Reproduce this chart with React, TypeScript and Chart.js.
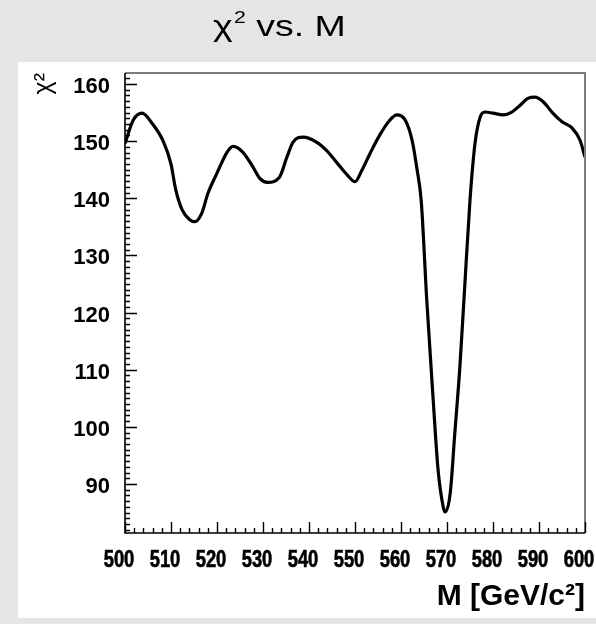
import React, { useEffect, useRef } from "react";
import { Chart, registerables } from "chart.js";

Chart.register(...registerables);

// ---- data ----
const massValues = [
  500, 501.8, 503.7, 506, 508.3, 510, 511, 512.4, 514, 515.2, 516.7, 518, 520,
  522.2, 523.5, 525.6, 527.8, 529.3, 531, 533.5, 535.2, 536.5, 538.7, 541.7,
  543.9, 546.1, 548.3, 550, 551.5, 553.3, 555.4, 557.6, 559.1, 560.9, 562.4,
  563.5, 564.4, 565.6, 567, 568, 568.9, 569.6, 570.7, 571.7, 572.8, 573.9, 575,
  576.1, 577.2, 578.3, 580, 582.2, 584.1, 585.9, 587.6, 589.1, 590.9, 593, 595,
  597.2, 598.9, 600,
];
const chi2Values = [
  149.6, 153.7, 154.9, 153.0, 150.0, 146.0, 141.6, 138, 136.3, 135.9, 137.4,
  140.8, 144.4, 148.1, 149.1, 148.1, 145.5, 143.5, 142.8, 143.6, 147.2, 149.8,
  150.7, 149.8, 148.3, 146.2, 144.1, 142.9, 144.9, 147.9, 151.1, 153.7, 154.6,
  153.7, 150.2, 145, 139.5, 122.2, 104.7, 93, 87.2, 85.1, 88.4, 98.9, 110.5,
  125.2, 139.7, 149.7, 154.2, 155.1, 154.9, 154.6, 155.1, 156.3, 157.5, 157.7,
  156.9, 154.9, 153.4, 152.3, 150.2, 147.2,
];
const xRange = [500, 600];
const yRange = [81.42, 161.93];
const xMajorStep = 10;
const xMinorStep = 2;
const yMajorStep = 10;
const yMinorStep = 1;

const titleBase = "χ";
const titleSup = "2";
const titleRest = " vs. M";
const xAxisTitle = "M [GeV/c²]";
const yAxisTitle = "χ²";

const FONT = "'Liberation Sans', Arial, Helvetica, sans-serif";

const backgroundPlugin = {
  id: "rootBackground",
  beforeDraw(chart: any) {
    const ctx = chart.ctx;
    ctx.save();
    ctx.fillStyle = "#e5e5e5";
    ctx.fillRect(0, 0, chart.width, chart.height);
    ctx.fillStyle = "#ffffff";
    ctx.fillRect(18, 62, chart.width - 18, chart.height - 62 - 6);
    // title (ROOT style, slightly wide face)
    ctx.fillStyle = "#000";
    ctx.textBaseline = "alphabetic";
    ctx.textAlign = "left";
    ctx.translate(213, 0);
    ctx.scale(1.25, 1);
    let x = 0;
    ctx.font = `30px ${FONT}`;
    ctx.fillText(titleBase, x, 36);
    x += ctx.measureText(titleBase).width + 1;
    ctx.font = `17px ${FONT}`;
    ctx.fillText(titleSup, x, 23);
    x += ctx.measureText(titleSup).width;
    ctx.font = `30px ${FONT}`;
    ctx.fillText(titleRest, x, 36);
    ctx.restore();
  },
};

const framePlugin = {
  id: "rootFrame",
  afterDraw(chart: any) {
    const { ctx, chartArea } = chart;
    const { left, right, top, bottom } = chartArea;
    const xs = chart.scales.x;
    const ys = chart.scales.y;
    ctx.save();
    // top & right frame
    ctx.strokeStyle = "#7a7a7a";
    ctx.lineWidth = 2;
    ctx.beginPath();
    ctx.moveTo(left, top);
    ctx.lineTo(right, top);
    ctx.lineTo(right, bottom);
    ctx.stroke();
    // axes
    ctx.strokeStyle = "#000";
    ctx.lineWidth = 1.6;
    ctx.beginPath();
    ctx.moveTo(left, top);
    ctx.lineTo(left, bottom);
    ctx.lineTo(right, bottom);
    ctx.stroke();
    // x ticks (inward)
    ctx.lineWidth = 1.4;
    ctx.beginPath();
    for (let v = xRange[0]; v <= xRange[1] + 1e-9; v += xMinorStep) {
      const px = Math.round(xs.getPixelForValue(v)) + 0.5;
      const major = Math.abs(v / xMajorStep - Math.round(v / xMajorStep)) < 1e-6;
      ctx.moveTo(px, bottom);
      ctx.lineTo(px, bottom - (major ? 11 : 5));
    }
    // y ticks (inward)
    const yStart = Math.ceil(yRange[0] / yMinorStep) * yMinorStep;
    for (let v = yStart; v <= yRange[1] + 1e-9; v += yMinorStep) {
      const py = Math.round(ys.getPixelForValue(v)) + 0.5;
      const major = Math.abs(v / yMajorStep - Math.round(v / yMajorStep)) < 1e-6;
      ctx.moveTo(left, py);
      ctx.lineTo(left + (major ? 12 : 5), py);
    }
    ctx.stroke();
    // x tick labels: condensed bold face, as in the reference
    ctx.fillStyle = "#000";
    ctx.strokeStyle = "#000";
    ctx.lineWidth = 0.6;
    ctx.font = `bold 23px ${FONT}`;
    ctx.textAlign = "center";
    ctx.textBaseline = "alphabetic";
    for (const t of xs.ticks) {
      const px = xs.getPixelForValue(t.value) - 6;
      ctx.save();
      ctx.translate(px, bottom + 34);
      ctx.scale(0.8, 1);
      ctx.fillText(String(t.value), 0, 0);
      ctx.strokeText(String(t.value), 0, 0);
      ctx.restore();
    }
    ctx.restore();
  },
};

export default function App() {
  const canvasRef = useRef<HTMLCanvasElement | null>(null);

  useEffect(() => {
    if (!canvasRef.current) return;
    const data = massValues.map((m, i) => ({ x: m, y: chi2Values[i] }));
    const chart = new Chart(canvasRef.current, {
      type: "line",
      data: {
        datasets: [
          {
            data,
            borderColor: "#000000",
            borderWidth: 3.2,
            pointRadius: 0,
            fill: false,
            cubicInterpolationMode: "monotone",
          },
        ],
      },
      options: {
        responsive: false,
        animation: false,
        layout: { padding: { top: 73, right: 11, left: 0, bottom: 0 } },
        plugins: {
          legend: { display: false },
          title: { display: false },
          tooltip: { enabled: false },
        },
        scales: {
          x: {
            type: "linear",
            min: xRange[0],
            max: xRange[1],
            grid: { display: false, drawTicks: false },
            border: { display: false },
            ticks: {
              display: false,
              stepSize: xMajorStep,
              autoSkip: false,
              maxRotation: 0,
              includeBounds: false,
            },
            title: {
              display: true,
              text: xAxisTitle,
              align: "end",
              color: "#000",
              padding: { top: 0, bottom: 9 },
              font: { family: FONT, weight: "bold", size: 30 },
            },
            afterFit: (s: any) => {
              s.height = 91;
              s.paddingLeft = 0;
              s.paddingRight = 0;
            },
          },
          y: {
            type: "linear",
            min: yRange[0],
            max: yRange[1],
            grid: { display: false, drawTicks: false },
            border: { display: false },
            ticks: {
              stepSize: yMajorStep,
              includeBounds: false,
              padding: 15,
              labelOffset: 3,
              color: "#000",
              font: { family: FONT, weight: "bold", size: 22 },
              callback: (v: any) => String(v),
            },
            title: {
              display: true,
              text: yAxisTitle,
              align: "end",
              color: "#000",
              padding: { top: 29, bottom: 0 },
              font: { family: FONT, size: 25 },
            },
            afterFit: (s: any) => {
              s.width = 125;
              s.paddingTop = 0;
              s.paddingBottom = 0;
            },
          },
        },
      },
      plugins: [backgroundPlugin, framePlugin],
    });
    return () => chart.destroy();
  }, []);

  return (
    <div style={{ position: "absolute", left: 0, top: 0, width: 596, height: 624 }}>
      <canvas ref={canvasRef} width={596} height={624} />
    </div>
  );
}
